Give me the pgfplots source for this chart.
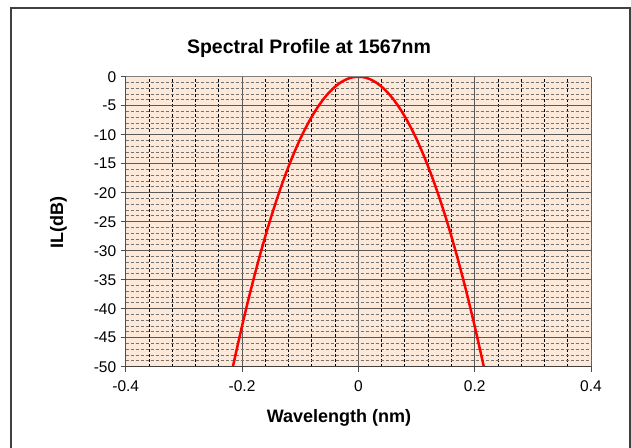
\documentclass[border=0pt]{standalone}
\usepackage{pgfplots}
\pgfplotsset{compat=1.18}
\usepackage{fontspec}
\setmainfont{Liberation Sans}
\definecolor{bgpeach}{HTML}{FDE9D9}
\definecolor{majgrid}{HTML}{595959}
\definecolor{framegray}{HTML}{404040}
\begin{document}
\begin{tikzpicture}[x=1pt,y=1pt]
\path[use as bounding box] (0,0) rectangle (631,447);
\draw[line width=1.6pt, color=framegray] (11,-10) -- (11,439) -- (630,439) -- (630,-10);
\begin{axis}[
  at={(125.7pt,80.3pt)}, anchor=south west,
  scale only axis, width=465.3pt, height=290pt,
  xmin=-0.4, xmax=0.4, ymin=-50, ymax=0,
  xtick={-0.4,-0.2,0,0.2,0.4},
  xticklabels={-0.4,-0.2,0,0.2,0.4},
  ytick={-50,-45,-40,-35,-30,-25,-20,-15,-10,-5,0},
  yticklabels={-50,-45,-40,-35,-30,-25,-20,-15,-10,-5,0},
  minor x tick num=4, minor y tick num=4,
  minor tick length=0pt, major tick length=5pt,
  tick align=outside, xtick pos=bottom, ytick pos=left,
  grid=both,
  major grid style={color=majgrid, line width=0.9pt},
  minor x grid style={color=black, line width=0.8pt, dash pattern=on 3pt off 2pt},
  minor y grid style={color=black!55, line width=0.9pt, dash pattern=on 3pt off 2pt},
  axis background/.style={fill=bgpeach},
  axis line style={draw=none},
  tick style={color=black!70, line width=0.8pt},
  ticklabel style={font=\fontsize{15.5}{18}\selectfont, text=black},
  yticklabel style={xshift=-1pt},
  xticklabel style={yshift=-5pt},
  clip=true,
]
\addplot[red, line width=2.5pt, smooth] coordinates {
(-0.2157,-50.0) (-0.21,-47.41) (-0.20,-43.0) (-0.19,-38.81) (-0.18,-34.83)
(-0.17,-31.07) (-0.16,-27.52) (-0.15,-24.19) (-0.14,-21.07) (-0.13,-18.17)
(-0.12,-15.48) (-0.11,-13.01) (-0.10,-10.75) (-0.09,-8.71) (-0.08,-6.88)
(-0.07,-5.27) (-0.06,-3.87) (-0.05,-2.69) (-0.04,-1.72) (-0.03,-0.9675)
(-0.02,-0.43) (-0.01,-0.1075) (0,0) (0.01,-0.1075) (0.02,-0.43)
(0.03,-0.9675) (0.04,-1.72) (0.05,-2.69) (0.06,-3.87) (0.07,-5.27)
(0.08,-6.88) (0.09,-8.71) (0.10,-10.75) (0.11,-13.01) (0.12,-15.48)
(0.13,-18.17) (0.14,-21.07) (0.15,-24.19) (0.16,-27.52) (0.17,-31.07)
(0.18,-34.83) (0.19,-38.81) (0.20,-43.0) (0.21,-47.41) (0.2157,-50.0)
};
\draw[color=gray, line width=1pt] (rel axis cs:0,1) -- (rel axis cs:1,1) -- (rel axis cs:1,0);
\draw[color=black!75, line width=1pt] (rel axis cs:0,1) -- (rel axis cs:0,0) -- (rel axis cs:1,0);
\end{axis}
\node[anchor=base, font=\fontsize{19.5}{23}\selectfont\bfseries] at (309,393.7) {Spectral Profile at 1567nm};
\node[anchor=base, font=\fontsize{18}{21}\selectfont\bfseries] at (339,24.7) {Wavelength (nm)};
\node[anchor=base, rotate=90, font=\fontsize{18}{21}\selectfont\bfseries] at (63,224) {IL(dB)};
\end{tikzpicture}
\end{document}
